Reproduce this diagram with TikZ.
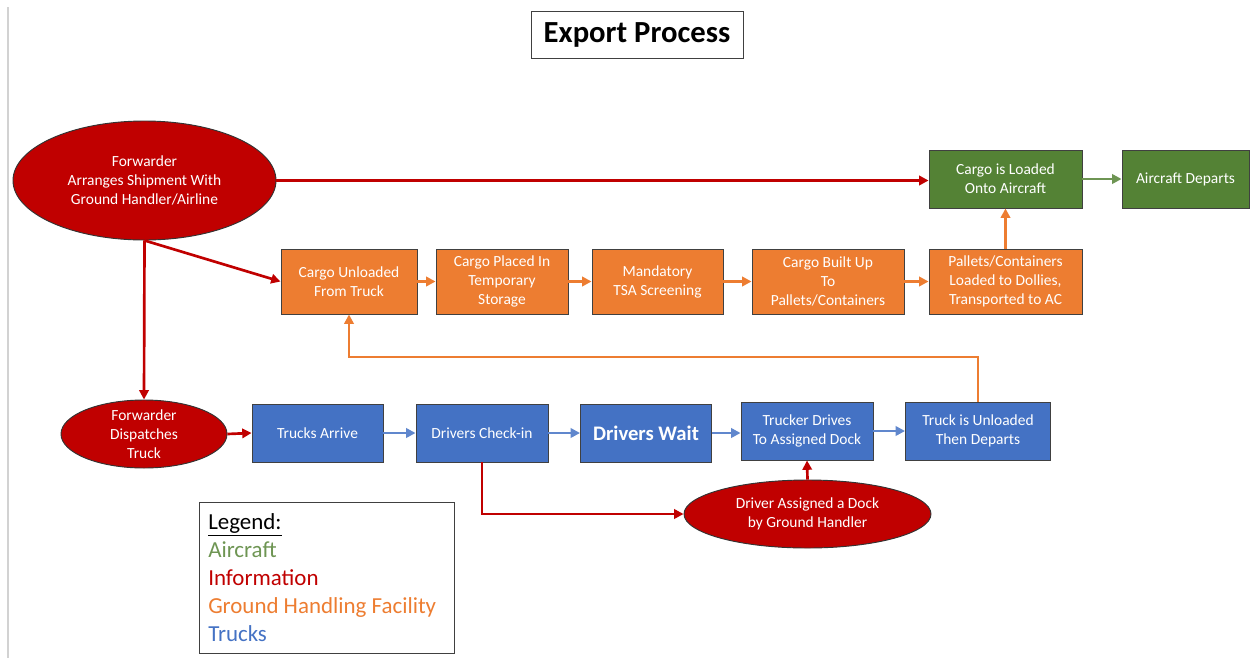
\documentclass[tikz,border=0pt]{standalone}
\usepackage{fontspec}
\setmainfont{Carlito}
\usetikzlibrary{shapes.geometric,arrows.meta}
\definecolor{cred}{HTML}{C00000}
\definecolor{corange}{HTML}{ED7D31}
\definecolor{cgreen}{HTML}{548235}
\definecolor{cblue}{HTML}{4472C4}
\definecolor{cedge}{HTML}{404040}
\begin{document}
\begin{tikzpicture}[x=0.75pt,y=-0.75pt,
  every node/.style={font=\fontsize{11.6}{14.2}\selectfont, align=center, inner sep=0pt},
  sz/.style 2 args={minimum width=#1*0.75pt, minimum height=#2*0.75pt},
  box/.style={draw=cedge, line width=0.7pt, text=white, rectangle},
  obox/.style={box, fill=corange},
  gbox/.style={box, fill=cgreen},
  bbox/.style={box, fill=cblue},
  iell/.style={ellipse, draw=black!80, line width=0.7pt, fill=cred},
  etext/.style={text=white},
  tip/.style={-{Triangle[length=7pt,width=7pt]}},
  rline/.style={tip, draw=cred, line width=2pt},
  oline/.style={tip, draw=corange, line width=2pt},
  bline/.style={tip, draw=cblue!85!white, line width=2pt},
  gline/.style={tip, draw=cgreen!85!white, line width=2pt}]
\useasboundingbox (0,0) rectangle (1250,658);
\draw[gray!35, line width=0.8pt] (8,7) -- (8,658);

% title
\node[draw=cedge, line width=0.7pt, sz={212}{47}, font=\fontsize{23}{27}\selectfont\bfseries] (title) at (637,34.5) {Export Process};

% information ellipses
\node[iell, sz={263}{119}] (fwd) at (144.5,180.5) {};
\node[etext] (fwdt) at (fwd.center) {Forwarder\\Arranges Shipment With\\Ground Handler/Airline};
\node[iell, sz={166}{68}] (fdt) at (144,434) {};
\node[etext] (fdtt) at (fdt.center) {Forwarder\\Dispatches\\Truck};
\node[iell, sz={247}{68}] (dad) at (807.5,514) {};
\node[etext] (dadt) at (dad.center) {Driver Assigned a Dock\\by Ground Handler};

% aircraft
\node[gbox, sz={153}{58}] (load) at (1005.5,179) {Cargo is Loaded\\Onto Aircraft};
\node[gbox, sz={127}{58}] (dep) at (1185.5,179) {Aircraft Departs};

% ground handling
\node[obox, sz={136}{65}] (unl) at (349,281.5) {Cargo Unloaded\\From Truck};
\node[obox, sz={132}{65}] (tmp) at (502,281.5) {Cargo Placed In\\Temporary\\Storage};
\node[obox, sz={131}{65}] (tsa) at (657.5,281.5) {Mandatory\\TSA Screening};
\node[obox, sz={152}{65}] (bld) at (828,281.5) {Cargo Built Up\\To\\Pallets/Containers};
\node[obox, sz={153}{65}] (pal) at (1005.5,281.5) {Pallets/Containers\\Loaded to Dollies,\\Transported to AC};

% trucks
\node[bbox, sz={131}{58}] (trk) at (317.5,433) {Trucks Arrive};
\node[bbox, sz={132}{58}] (chk) at (482,433) {Drivers Check-in};
\node[bbox, sz={131}{58}, font=\fontsize{15.5}{18}\selectfont\bfseries] (wait) at (646,433) {Drivers Wait};
\node[bbox, sz={132}{58}] (tdr) at (807,431) {Trucker Drives\\To Assigned Dock};
\node[bbox, sz={145}{58}] (tun) at (978,431) {Truck is Unloaded\\Then Departs};

% legend
\node[draw=cedge, line width=0.7pt, anchor=north west, sz={255}{151}] (legend) at (199,502) {};
\node[anchor=west, align=left, font=\fontsize{17.2}{21}\selectfont] (legendt) at (208,577.5)
 {\underline{Legend:}\\
  \textcolor{cgreen!85!white}{Aircraft}\\
  \textcolor{cred}{Information}\\
  \textcolor{corange}{Ground Handling Facility}\\
  \textcolor{cblue}{Trucks}};

% connectors: information
\draw[rline] (fwd.east) -- (fwd.east -| load.west);
\draw[rline] (fwd.south) -- (fdt.north);
\draw[rline] (fwd.south) -- (unl.west);
\draw[rline] (fdt.east) -- (trk.west);
\draw[rline] (chk.south) |- (dad.west);
\draw[rline] (dad.north) -- (tdr.south);

% connectors: ground handling
\draw[oline] (unl.east) -- (tmp.west);
\draw[oline] (tmp.east) -- (tsa.west);
\draw[oline] (tsa.east) -- (bld.west);
\draw[oline] (bld.east) -- (pal.west);
\draw[oline] (pal.north) -- (load.south);
\coordinate (loopy) at (0,357);
\draw[oline] (tun.north) -- (tun.north |- loopy) -| (unl.south);

% connectors: trucks
\draw[bline] (trk.east) -- (chk.west);
\draw[bline] (chk.east) -- (wait.west);
\draw[bline] (wait.east) -- (wait.east -| tdr.west);
\draw[bline] (tdr.east) -- (tun.west);

% connectors: aircraft
\draw[gline] (load.east) -- (dep.west);
\end{tikzpicture}
\end{document}
